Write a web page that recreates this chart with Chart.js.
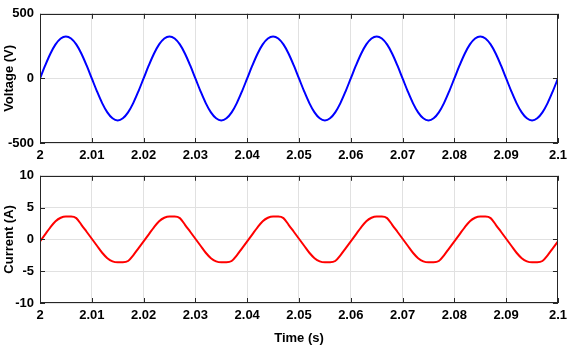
<!DOCTYPE html>
<html>
<head>
<meta charset="utf-8">
<script src="https://cdn.jsdelivr.net/npm/chart.js@4.4.1/dist/chart.umd.min.js"></script>
<style>
  html, body { margin: 0; padding: 0; background: #fff; }
  #wrap { position: relative; width: 572px; height: 346px; }
  .pane { position: absolute; left: 0; width: 572px; }
</style>
</head>
<body>
<div id="wrap">
  <div class="pane" style="top:0;height:162px"><canvas id="v-chart"></canvas></div>
  <div class="pane" style="top:162px;height:184px"><canvas id="i-chart"></canvas></div>
</div>
<script>
/* 전압/전류 파형 — 두 개의 서브플롯 (MATLAB 스타일 박스 + 안쪽 눈금) */

// 샘플 시각 (s), 1 ms 간격
var TIME = [
  2.000, 2.001, 2.002, 2.003, 2.004, 2.005, 2.006, 2.007, 2.008, 2.009,
  2.010, 2.011, 2.012, 2.013, 2.014, 2.015, 2.016, 2.017, 2.018, 2.019,
  2.020, 2.021, 2.022, 2.023, 2.024, 2.025, 2.026, 2.027, 2.028, 2.029,
  2.030, 2.031, 2.032, 2.033, 2.034, 2.035, 2.036, 2.037, 2.038, 2.039,
  2.040, 2.041, 2.042, 2.043, 2.044, 2.045, 2.046, 2.047, 2.048, 2.049,
  2.050, 2.051, 2.052, 2.053, 2.054, 2.055, 2.056, 2.057, 2.058, 2.059,
  2.060, 2.061, 2.062, 2.063, 2.064, 2.065, 2.066, 2.067, 2.068, 2.069,
  2.070, 2.071, 2.072, 2.073, 2.074, 2.075, 2.076, 2.077, 2.078, 2.079,
  2.080, 2.081, 2.082, 2.083, 2.084, 2.085, 2.086, 2.087, 2.088, 2.089,
  2.090, 2.091, 2.092, 2.093, 2.094, 2.095, 2.096, 2.097, 2.098, 2.099,
  2.100
];

// 전압 (V)
var VOLTAGE = [
  0, 100, 191, 263, 309, 325, 309, 263, 191, 100,
  0, -100, -191, -263, -309, -325, -309, -263, -191, -100,
  0, 100, 191, 263, 309, 325, 309, 263, 191, 100,
  0, -100, -191, -263, -309, -325, -309, -263, -191, -100,
  0, 100, 191, 263, 309, 325, 309, 263, 191, 100,
  0, -100, -191, -263, -309, -325, -309, -263, -191, -100,
  0, 100, 191, 263, 309, 325, 309, 263, 191, 100,
  0, -100, -191, -263, -309, -325, -309, -263, -191, -100,
  0, 100, 191, 263, 309, 325, 309, 263, 191, 100,
  0, -100, -191, -263, -309, -325, -309, -263, -191, -100,
  0
];

// 전류 (A) — 윗부분이 눌린 사다리꼴 모양
var CURRENT = [
  -0.3, 0.8, 1.9, 2.85, 3.4, 3.6, 3.6, 3.35, 2.3, 1.2,
  0.1, -1.0, -2.1, -2.95, -3.45, -3.6, -3.6, -3.4, -2.5, -1.4,
  -0.3, 0.8, 1.9, 2.85, 3.4, 3.6, 3.6, 3.35, 2.3, 1.2,
  0.1, -1.0, -2.1, -2.95, -3.45, -3.6, -3.6, -3.4, -2.5, -1.4,
  -0.3, 0.8, 1.9, 2.85, 3.4, 3.6, 3.6, 3.35, 2.3, 1.2,
  0.1, -1.0, -2.1, -2.95, -3.45, -3.6, -3.6, -3.4, -2.5, -1.4,
  -0.3, 0.8, 1.9, 2.85, 3.4, 3.6, 3.6, 3.35, 2.3, 1.2,
  0.1, -1.0, -2.1, -2.95, -3.45, -3.6, -3.6, -3.4, -2.5, -1.4,
  -0.3, 0.8, 1.9, 2.85, 3.4, 3.6, 3.6, 3.35, 2.3, 1.2,
  0.1, -1.0, -2.1, -2.95, -3.45, -3.6, -3.6, -3.4, -2.5, -1.4,
  -0.3
];

var X_TICKS = [2, 2.01, 2.02, 2.03, 2.04, 2.05, 2.06, 2.07, 2.08, 2.09, 2.1];
var X_TICK_LABELS = ['2', '2.01', '2.02', '2.03', '2.04', '2.05', '2.06', '2.07', '2.08', '2.09', '2.1'];
var V_TICKS = [-500, 0, 500];
var V_TICK_LABELS = ['-500', '0', '500'];
var I_TICKS = [-10, -5, 0, 5, 10];
var I_TICK_LABELS = ['-10', '-5', '0', '5', '10'];

var FONT = 'Arial, "Liberation Sans", Helvetica, sans-serif';
var TEXT_COLOR = '#262626';
var GRID_COLOR = '#e1e1e1';

function toPoints(ys) {
  return TIME.map(function (t, i) { return { x: t, y: ys[i] }; });
}

// 박스 테두리와 안쪽으로 향하는 눈금을 그린다
var boxPlugin = {
  id: 'matlabBox',
  afterDraw: function (chart) {
    var a = chart.chartArea, ctx = chart.ctx;
    var xs = chart.scales.x, ys = chart.scales.y;
    ctx.save();
    ctx.strokeStyle = TEXT_COLOR;
    ctx.lineWidth = 1;
    ctx.beginPath();
    xs.ticks.forEach(function (t) {
      var px = Math.round(xs.getPixelForValue(t.value)) + 0.5;
      ctx.moveTo(px, a.top); ctx.lineTo(px, a.top + 5);
      ctx.moveTo(px, a.bottom); ctx.lineTo(px, a.bottom - 5);
    });
    ys.ticks.forEach(function (t) {
      var py = Math.round(ys.getPixelForValue(t.value)) + 0.5;
      ctx.moveTo(a.left, py); ctx.lineTo(a.left + 5, py);
      ctx.moveTo(a.right, py); ctx.lineTo(a.right - 5, py);
    });
    ctx.stroke();
    ctx.strokeRect(Math.round(a.left) + 0.5, Math.round(a.top) + 0.5,
      Math.round(a.right - a.left) - 1, Math.round(a.bottom - a.top) - 1);
    ctx.restore();
  }
};

function makeChart(canvasId, opts) {
  var ctx = document.getElementById(canvasId).getContext('2d');
  return new Chart(ctx, {
    type: 'line',
    data: {
      datasets: [{
        data: toPoints(opts.values),
        borderColor: opts.color,
        borderWidth: 2,
        pointRadius: 0,
        fill: false,
        cubicInterpolationMode: 'monotone'
      }]
    },
    options: {
      responsive: true,
      maintainAspectRatio: false,
      animation: false,
      events: [],
      layout: { padding: { top: opts.padTop, right: 7, left: 0, bottom: 0 } },
      plugins: { legend: { display: false }, tooltip: { enabled: false } },
      scales: {
        x: {
          type: 'linear',
          min: 2, max: 2.1,
          afterBuildTicks: function (s) { s.ticks = X_TICKS.map(function (v) { return { value: v }; }); },
          afterFit: function (s) { s.height = opts.xHeight; },
          grid: { color: GRID_COLOR, drawTicks: false },
          border: { display: false },
          ticks: {
            color: '#000', padding: 5,
            font: { family: FONT, size: 13, weight: 'bold' },
            maxRotation: 0,
            callback: function (v, i) { return X_TICK_LABELS[i]; }
          },
          title: {
            display: !!opts.xTitle, text: opts.xTitle || '', color: '#000',
            font: { family: FONT, size: 13, weight: 'bold' },
            padding: { top: 2, bottom: 0 }
          }
        },
        y: {
          min: opts.ticks[0], max: opts.ticks[opts.ticks.length - 1],
          afterBuildTicks: function (s) { s.ticks = opts.ticks.map(function (v) { return { value: v }; }); },
          afterFit: function (s) { s.width = 40; },
          grid: { color: GRID_COLOR, drawTicks: false },
          border: { display: false },
          ticks: {
            color: '#000', padding: 6,
            font: { family: FONT, size: 13, weight: 'bold' },
            callback: function (v, i) { return opts.labels[i]; }
          },
          title: {
            display: true, text: opts.yTitle, color: '#000',
            font: { family: FONT, size: 13, weight: 'bold' },
            padding: { top: 2, bottom: 0 }
          }
        }
      }
    },
    plugins: [boxPlugin]
  });
}

makeChart('v-chart', {
  values: VOLTAGE, color: '#0000ff', ticks: V_TICKS, labels: V_TICK_LABELS,
  yTitle: 'Voltage (V)', padTop: 5, xHeight: 19
});
makeChart('i-chart', {
  values: CURRENT, color: '#ff0000', ticks: I_TICKS, labels: I_TICK_LABELS,
  yTitle: 'Current (A)', xTitle: 'Time (s)', padTop: 2, xHeight: 43
});
</script>
</body>
</html>
